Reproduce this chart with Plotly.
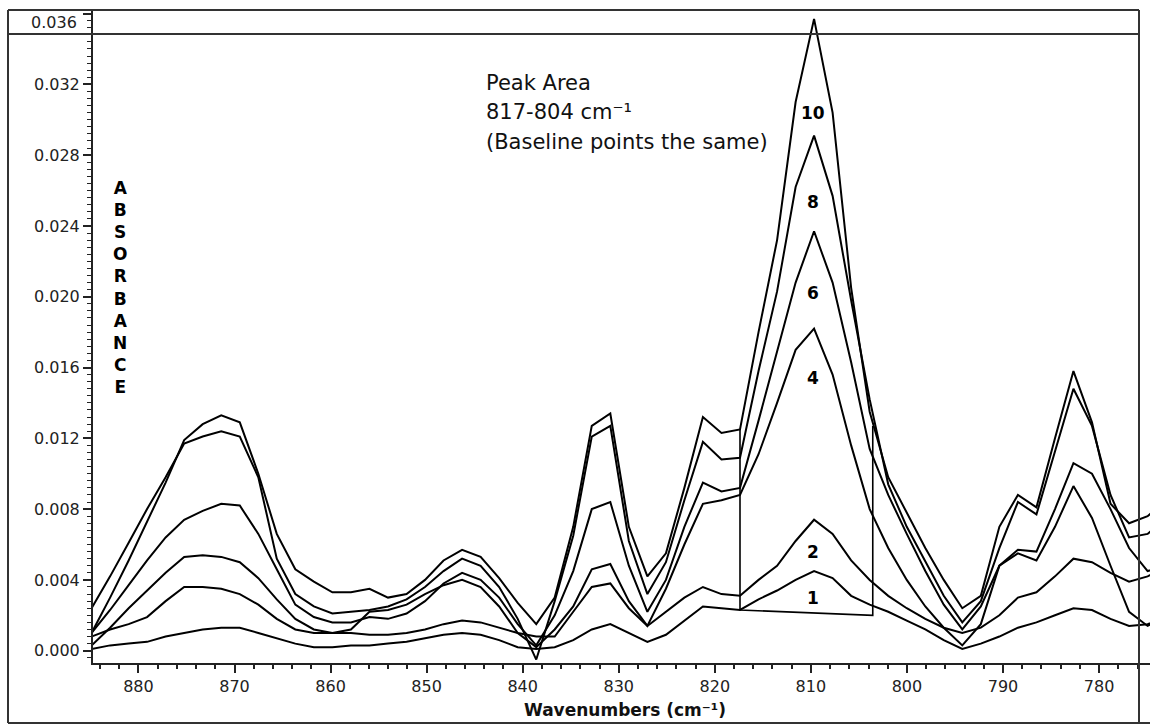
import numpy as np
import plotly.graph_objects as go

# Wavenumber sampling of the spectra (cm-1), high to low
wavenumbers = np.round(817.38 + 1.9286 * np.arange(35, -24, -1), 2)

# Absorbance spectra, one per sample (label = peak order at ~810 cm-1)
abs_10 = [0.0010, 0.0030, 0.0051, 0.0073, 0.0095, 0.0119, 0.0128, 0.0133, 0.0129, 0.0100,
          0.0066, 0.0046, 0.0039, 0.0033, 0.0033, 0.0035, 0.0030, 0.0032, 0.0040, 0.0051,
          0.0057, 0.0053, 0.0041, 0.0027, 0.0015, 0.0030, 0.0070, 0.0127, 0.0134, 0.0070,
          0.0042, 0.0055, 0.0092, 0.0132, 0.0123, 0.0125, 0.0180, 0.0232, 0.0310, 0.0357,
          0.0304, 0.0205, 0.0135, 0.0098, 0.0078, 0.0058, 0.0040, 0.0024, 0.0031, 0.0070,
          0.0088, 0.0081, 0.0120, 0.0158, 0.0129, 0.0083, 0.0072, 0.0076, 0.0085]
abs_8 = [0.0024, 0.0042, 0.0061, 0.0080, 0.0098, 0.0117, 0.0121, 0.0124, 0.0121, 0.0098,
         0.0052, 0.0032, 0.0025, 0.0021, 0.0022, 0.0023, 0.0025, 0.0029, 0.0036, 0.0045,
         0.0052, 0.0048, 0.0036, 0.0018, -0.0005, 0.0028, 0.0065, 0.0121, 0.0127, 0.0062,
         0.0032, 0.0050, 0.0085, 0.0118, 0.0108, 0.0109, 0.0158, 0.0203, 0.0262, 0.0291,
         0.0257, 0.0198, 0.0142, 0.0094, 0.0070, 0.0050, 0.0031, 0.0016, 0.0028, 0.0058,
         0.0084, 0.0077, 0.0112, 0.0148, 0.0127, 0.0088, 0.0064, 0.0066, 0.0075]
abs_6 = [0.0010, 0.0023, 0.0037, 0.0051, 0.0064, 0.0074, 0.0079, 0.0083, 0.0082, 0.0066,
         0.0046, 0.0026, 0.0019, 0.0016, 0.0016, 0.0019, 0.0018, 0.0021, 0.0028, 0.0038,
         0.0044, 0.0040, 0.0030, 0.0015, 0.0003, 0.0020, 0.0045, 0.0080, 0.0084, 0.0048,
         0.0022, 0.0040, 0.0070, 0.0095, 0.0090, 0.0092, 0.0130, 0.0169, 0.0208, 0.0237,
         0.0208, 0.0163, 0.0114, 0.0088, 0.0066, 0.0045, 0.0026, 0.0012, 0.0025, 0.0048,
         0.0057, 0.0056, 0.0080, 0.0106, 0.0100, 0.0080, 0.0058, 0.0045, 0.0048]
abs_4 = [0.0003, 0.0013, 0.0024, 0.0034, 0.0044, 0.0053, 0.0054, 0.0053, 0.0050, 0.0041,
         0.0029, 0.0018, 0.0012, 0.0010, 0.0012, 0.0022, 0.0023, 0.0026, 0.0032, 0.0037,
         0.0040, 0.0036, 0.0025, 0.0010, 0.0002, 0.0012, 0.0025, 0.0046, 0.0049, 0.0028,
         0.0014, 0.0035, 0.0060, 0.0083, 0.0085, 0.0088, 0.0111, 0.0140, 0.0170, 0.0182,
         0.0156, 0.0116, 0.0080, 0.0058, 0.0040, 0.0025, 0.0013, 0.0003, 0.0015, 0.0048,
         0.0055, 0.0051, 0.0070, 0.0093, 0.0075, 0.0048, 0.0022, 0.0014, 0.0020]
abs_2 = [0.0008, 0.0012, 0.0015, 0.0019, 0.0028, 0.0036, 0.0036, 0.0035, 0.0032, 0.0026,
         0.0018, 0.0012, 0.0010, 0.0010, 0.0010, 0.0009, 0.0009, 0.0010, 0.0012, 0.0015,
         0.0017, 0.0016, 0.0013, 0.0010, 0.0008, 0.0008, 0.0022, 0.0036, 0.0038, 0.0024,
         0.0014, 0.0022, 0.0030, 0.0036, 0.0032, 0.0031, 0.0040, 0.0048, 0.0062, 0.0074,
         0.0066, 0.0051, 0.0040, 0.0031, 0.0024, 0.0018, 0.0013, 0.0010, 0.0013, 0.0020,
         0.0030, 0.0033, 0.0042, 0.0052, 0.0050, 0.0044, 0.0039, 0.0042, 0.0047]
abs_1 = [0.0001, 0.0003, 0.0004, 0.0005, 0.0008, 0.0010, 0.0012, 0.0013, 0.0013, 0.0010,
         0.0007, 0.0004, 0.0002, 0.0002, 0.0003, 0.0003, 0.0004, 0.0005, 0.0007, 0.0009,
         0.0010, 0.0009, 0.0006, 0.0002, 0.0001, 0.0002, 0.0006, 0.0012, 0.0015, 0.0010,
         0.0005, 0.0009, 0.0017, 0.0025, 0.0024, 0.0023, 0.0029, 0.0034, 0.0040, 0.0045,
         0.0041, 0.0031, 0.0026, 0.0022, 0.0017, 0.0012, 0.0006, 0.0001, 0.0004, 0.0008,
         0.0013, 0.0016, 0.0020, 0.0024, 0.0023, 0.0018, 0.0014, 0.0015, 0.0019]

spectra = [abs_10, abs_8, abs_6, abs_4, abs_2, abs_1]

# Peak-area integration limits and shared baseline points
baseline_x = [817.38, 803.56]
baseline_y = [0.0023, 0.0020]
limit_top_y = [0.0125, 0.0127]

# Curve labels placed under each peak maximum
label_text = ["10", "8", "6", "4", "2", "1"]
label_x = [809.75, 809.75, 809.75, 809.75, 809.75, 809.75]
label_y = [0.0304, 0.02535, 0.0202, 0.0154, 0.0056, 0.0030]

y_ticks = [0.000, 0.004, 0.008, 0.012, 0.016, 0.020, 0.024, 0.028, 0.032, 0.036]
x_ticks = [780, 790, 800, 810, 820, 830, 840, 850, 860, 870, 880]

W, H = 1150, 725
L, R, T, B = 93, 0, 10, 62
pw, ph = W - L - R, H - T - B


def px(x):
    return (x - L) / pw


def py(y):
    return (H - B - y) / ph


fig = go.Figure()

for spec in spectra:
    fig.add_trace(go.Scatter(x=wavenumbers, y=spec, mode="lines",
                             line=dict(color="black", width=2), hoverinfo="skip"))

# integration limits + baseline outline
fig.add_trace(go.Scatter(
    x=[baseline_x[0], baseline_x[0], baseline_x[1], baseline_x[1]],
    y=[limit_top_y[0], baseline_y[0], baseline_y[1], limit_top_y[1]],
    mode="lines", line=dict(color="black", width=1.6), hoverinfo="skip"))

frame = "#333333"
shapes = [
    # outer frame
    dict(type="line", x0=px(8), x1=px(1139), y0=py(10), y1=py(10)),
    dict(type="line", x0=px(8), x1=px(8), y0=py(10), y1=py(723)),
    dict(type="line", x0=px(8), x1=px(1150), y0=py(723), y1=py(723)),
    dict(type="line", x0=px(8), x1=px(1139), y0=py(34), y1=py(34)),
    dict(type="line", x0=px(1139), x1=px(1139), y0=py(10), y1=py(723)),
]
for s in shapes:
    s.update(xref="paper", yref="paper", line=dict(color=frame, width=2), layer="above")

annotations = []
for t, x, y in zip(label_text, label_x, label_y):
    annotations.append(dict(x=x, y=y, xref="x", yref="y", text=t, showarrow=False,
                            xanchor="center", yanchor="middle",
                            font=dict(family="DejaVu Sans", size=17, color="black", weight="bold")))

# vertical axis title written letter by letter
annotations.append(dict(x=px(120), y=py(287), xref="paper", yref="paper",
                        text="<br>".join("ABSORBANCE"), showarrow=False, align="center",
                        xanchor="center", yanchor="middle",
                        font=dict(family="DejaVu Sans", size=17, color="black", weight="bold")))

for i, line in enumerate(["Peak Area", "817-804 cm⁻¹", "(Baseline points the same)"]):
    annotations.append(dict(x=px(484), y=py(83 + 29.5 * i), xref="paper", yref="paper",
                            text=line, showarrow=False, xanchor="left", yanchor="middle",
                            font=dict(family="DejaVu Sans", size=21, color="#111")))

annotations.append(dict(x=px(79), y=py(23), xref="paper", yref="paper", text="0.036",
                        showarrow=False, xanchor="right", yanchor="middle",
                        font=dict(family="DejaVu Sans", size=16, color="#222")))

annotations.append(dict(x=px(625), y=py(710), xref="paper", yref="paper",
                        text="Wavenumbers (cm⁻¹)", showarrow=False,
                        xanchor="center", yanchor="middle",
                        font=dict(family="DejaVu Sans", size=17, color="#111", weight="bold")))

fig.update_layout(
    width=W, height=H,
    margin=dict(l=L, r=R, t=T, b=B, pad=0),
    paper_bgcolor="white", plot_bgcolor="white",
    showlegend=False,
    shapes=shapes,
    annotations=annotations,
    font=dict(family="DejaVu Sans", size=16, color="#222"),
)

fig.update_xaxes(
    range=[884.73, 774.70], tickvals=x_ticks, ticktext=[str(v) for v in x_ticks],
    showline=True, linecolor="#222", linewidth=2, mirror=False,
    ticks="outside", ticklen=8, tickwidth=1.5, tickcolor="#222",
    minor=dict(ticks="outside", ticklen=4, tickwidth=1.5, tickcolor="#222", dtick=2, tick0=0),
    showgrid=False, zeroline=False, tickfont=dict(size=16, color="#222"),
)
fig.update_yaxes(
    range=[-0.000695, 0.0362], tickvals=y_ticks,
    ticktext=[f"{v:.3f}" if v < 0.035 else "" for v in y_ticks],
    showline=True, linecolor="#222", linewidth=2,
    ticks="outside", ticklen=8, tickwidth=1.5, tickcolor="#222",
    minor=dict(ticks="outside", ticklen=4, tickwidth=1.2, tickcolor="#222", dtick=0.0004, tick0=0),
    showgrid=False, zeroline=False, tickfont=dict(size=16, color="#222"),
)

fig.write_html("out.html")
